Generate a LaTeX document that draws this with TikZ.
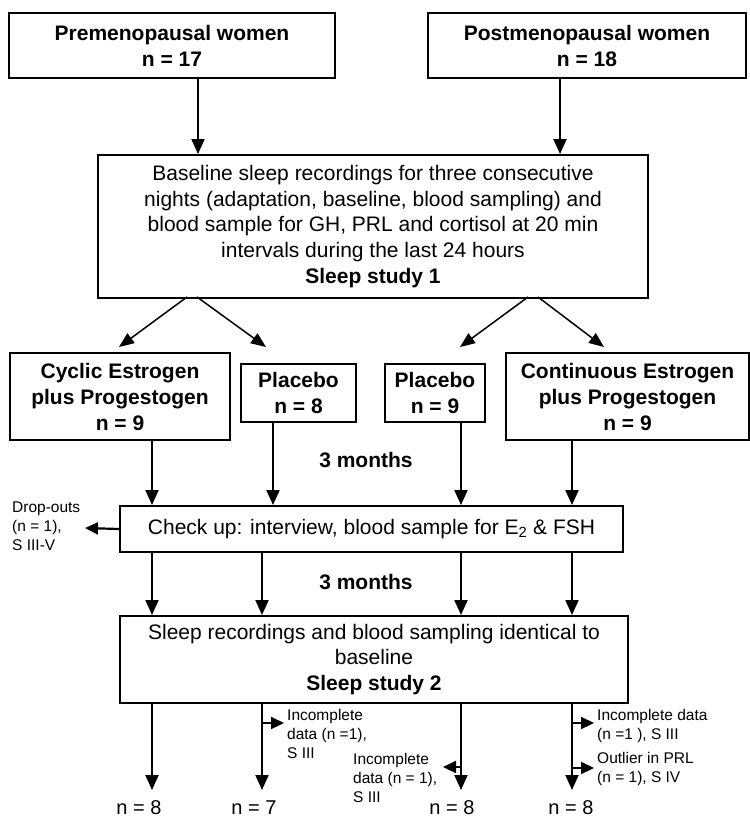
\documentclass[tikz,border=0pt]{standalone}
\usepackage{fontspec}
\setmainfont{Liberation Sans}
\usetikzlibrary{arrows.meta}
\tikzset{
  box/.style={draw, line width=2pt, inner sep=0pt, align=center, anchor=north west},
  bb/.style={font=\fontsize{21}{26}\selectfont\bfseries},
  rt/.style={font=\fontsize{21}{25.7}\selectfont},
  st/.style={font=\fontsize{15.5}{18.8}\selectfont, align=left, inner sep=0pt, anchor=north west},
  lab/.style={font=\fontsize{20}{24}\selectfont, inner sep=0pt},
  arr/.style={line width=2pt, -{Triangle[length=15pt,width=13pt]}},
  darr/.style={line width=1.5pt, -{Triangle[length=15pt,width=12pt]}},
  sarr/.style={line width=2.2pt, -{Triangle[length=13pt,width=12pt]}},
}
\begin{document}
\begin{tikzpicture}[x=1pt,y=-1pt]
\useasboundingbox (0,0) rectangle (750,820);

% column coordinates
\coordinate (ca) at (198,0);
\coordinate (cb) at (560,0);
\coordinate (c1) at (152,0);
\coordinate (c2) at (273,0);
\coordinate (c2b) at (262,0);
\coordinate (c3) at (461,0);
\coordinate (c4) at (572,0);

% boxes
\node[box,bb,minimum width=326pt,minimum height=65pt] (pre) at (8,12) {Premenopausal women\\n = 17};
\node[box,bb,minimum width=318pt,minimum height=65pt] (post) at (427,12) {Postmenopausal women\\n = 18};
\node[box,rt,minimum width=550pt,minimum height=143pt] (base) at (97,154)
  {Baseline sleep recordings for three consecutive\\nights (adaptation, baseline, blood sampling) and\\blood sample for GH, PRL and cortisol at 20 min\\intervals during the last 24 hours\\\textbf{Sleep study 1}};
\node[box,bb,minimum width=220pt,minimum height=87pt] (cyc) at (9,352) {Cyclic Estrogen\\plus Progestogen\\n = 9};
\node[box,bb,minimum width=115pt,minimum height=58pt] (pl1) at (240,363) {Placebo\\n = 8};
\node[box,bb,minimum width=100pt,minimum height=58pt] (pl2) at (384,363) {Placebo\\n = 9};
\node[box,bb,minimum width=243pt,minimum height=87pt] (con) at (505,352) {Continuous Estrogen\\plus Progestogen\\n = 9};
\node[box,rt,minimum width=503pt,minimum height=46pt] (chk) at (119,505) {Check up: interview, blood sample for E\textsubscript{2} \& FSH};
\node[box,rt,minimum width=508pt,minimum height=87pt] (sl2) at (119,615)
  {Sleep recordings and blood sampling identical to\\baseline\\\textbf{Sleep study 2}};

\node[bb] (m1) at (366,460) {3 months};
\node[bb] (m2) at (366,582) {3 months};

% top arrows
\draw[arr] (pre.south -| ca) -- (base.north -| ca);
\draw[arr] (post.south -| cb) -- (base.north -| cb);

% diagonal arrows
\coordinate (d1) at (187,297);
\coordinate (d2) at (197,297);
\coordinate (d3) at (528,297);
\coordinate (d4) at (538,297);
\coordinate (t1) at (119,347);
\coordinate (t2) at (266,347);
\coordinate (t3) at (460,347);
\coordinate (t4) at (604,347);
\draw[darr] (d1) -- (t1);
\draw[darr] (d2) -- (t2);
\draw[darr] (d3) -- (t3);
\draw[darr] (d4) -- (t4);

% arrows into check-up
\draw[arr] (cyc.south -| c1) -- (chk.north -| c1);
\draw[arr] (pl1.south -| c2) -- (chk.north -| c2);
\draw[arr] (pl2.south -| c3) -- (chk.north -| c3);
\draw[arr] (con.south -| c4) -- (chk.north -| c4);

% drop-outs
\coordinate (drop) at (85,528);
\draw[sarr] (chk.west) -- (drop);
\node[st] (dtxt) at (12,502) {Drop-outs\\(n = 1),\\S III-V};

% arrows into sleep study 2
\draw[arr] (chk.south -| c1) -- (sl2.north -| c1);
\draw[arr] (chk.south -| c2b) -- (sl2.north -| c2b);
\draw[arr] (chk.south -| c3) -- (sl2.north -| c3);
\draw[arr] (chk.south -| c4) -- (sl2.north -| c4);

% final arrows
\coordinate (e1) at (152,790);
\coordinate (e2) at (262,790);
\coordinate (e3) at (461,790);
\coordinate (e4) at (572,790);
\draw[arr] (sl2.south -| c1) -- (e1);
\draw[arr] (sl2.south -| c2b) -- (e2);
\draw[arr] (sl2.south -| c3) -- (e3);
\draw[arr] (sl2.south -| c4) -- (e4);

% side branches
\coordinate (s1) at (284,723);
\coordinate (s2) at (443,767);
\coordinate (s3) at (594,723);
\coordinate (s4) at (594,768);
\draw[sarr] (s1 -| c2b) -- (s1);
\draw[sarr] (s2 -| c3) -- (s2);
\draw[sarr] (s3 -| c4) -- (s3);
\draw[sarr] (s4 -| c4) -- (s4);
\node[st] (x1) at (287,709) {Incomplete\\data (n =1),\\S III};
\node[st] (x2) at (353,753) {Incomplete\\data (n = 1),\\S III};
\node[st] (x3) at (597,709) {Incomplete data\\(n =1 ), S III};
\node[st] (x4) at (597,752) {Outlier in PRL\\(n = 1), S IV};

% final counts
\node[lab] (n1) at (139,808) {n = 8};
\node[lab] (n2) at (254,808) {n = 7};
\node[lab] (n3) at (452,808) {n = 8};
\node[lab] (n4) at (571,808) {n = 8};
\end{tikzpicture}
\end{document}
